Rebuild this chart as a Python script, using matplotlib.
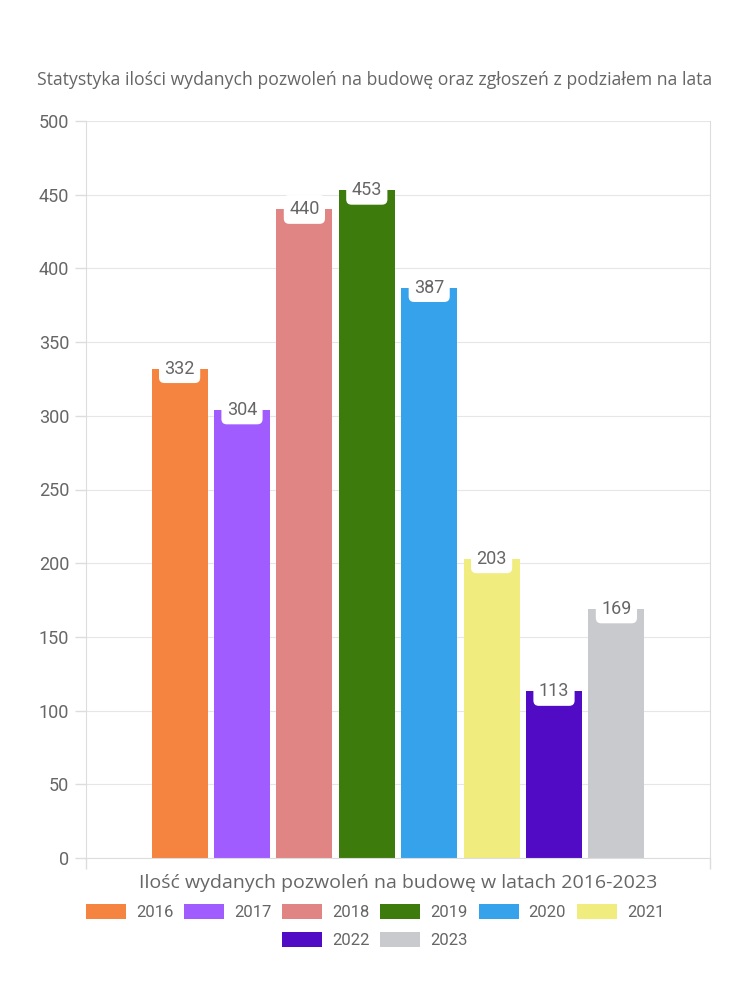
import matplotlib.pyplot as plt
from matplotlib.patches import Patch

years = ["2016", "2017", "2018", "2019", "2020", "2021", "2022", "2023"]
values = [332, 304, 440, 453, 387, 203, 113, 169]
colors = ["#F4843F", "#A05CFF", "#E08484", "#3D7C0C", "#36A2EB", "#F0EC7E", "#520BC4", "#C9CACE"]
yticks = [0, 50, 100, 150, 200, 250, 300, 350, 400, 450, 500]

title = "Statystyka ilości wydanych pozwoleń na budowę oraz zgłoszeń z podziałem na lata"
xlabel = "Ilość wydanych pozwoleń na budowę w latach 2016-2023"

plt.rcParams["font.family"] = ["Open Sans", "DejaVu Sans"]
text_color = "#666666"
num_font = ["Roboto", "DejaVu Sans"]

fig = plt.figure(figsize=(7.5, 10), dpi=100)
ax = fig.add_axes([86 / 750, 142 / 1000, 624 / 750, 737 / 1000])

n = len(values)
slot = 0.8 / n
for i, (v, c) in enumerate(zip(values, colors)):
    x = (i - (n - 1) / 2) * slot
    ax.bar(x, v, width=slot * 0.9, color=c, zorder=2)
    ax.text(x, v, str(v), ha="center", va="center", fontsize=13, color=text_color,
            family=num_font, zorder=3,
            bbox=dict(boxstyle="round,pad=0.3,rounding_size=0.3", fc="white", ec="none"))

ax.set_xlim(-0.5, 0.5)
ax.set_ylim(0, 500)
ax.set_yticks(yticks)
ax.set_yticklabels([str(t) for t in yticks], fontsize=13, color=text_color, family=num_font)
ax.set_xticks([-0.5, 0.5])
ax.set_xticklabels(["", ""])
ax.tick_params(axis="both", length=8, color="#dddddd", width=1)
ax.tick_params(axis="y", pad=4)
ax.grid(axis="y", color="#e6e6e6", linewidth=0.8, zorder=0)
ax.spines["top"].set_visible(False)
for s in ["left", "right", "bottom"]:
    ax.spines[s].set_color("#dddddd")
ax.set_xlabel(xlabel, fontsize=14, color=text_color, labelpad=0)

fig.text(0.5, 0.92, title, ha="center", va="center", fontsize=12.7, color=text_color)

handles = [Patch(facecolor=c, edgecolor="none", label=y) for y, c in zip(years, colors)]
leg_font = {"family": num_font, "size": 12}
opts = dict(loc="center", frameon=False, prop=leg_font, handlelength=2.4, handleheight=1.0,
            columnspacing=0.65, handletextpad=0.6, labelcolor=text_color)
fig.legend(handles=handles[:6], bbox_to_anchor=(0.5, 0.088), ncol=6, **opts)
fig.legend(handles=handles[6:], bbox_to_anchor=(0.5, 0.06), ncol=2, **opts)

fig.savefig("out.png", dpi=100, facecolor="white")
